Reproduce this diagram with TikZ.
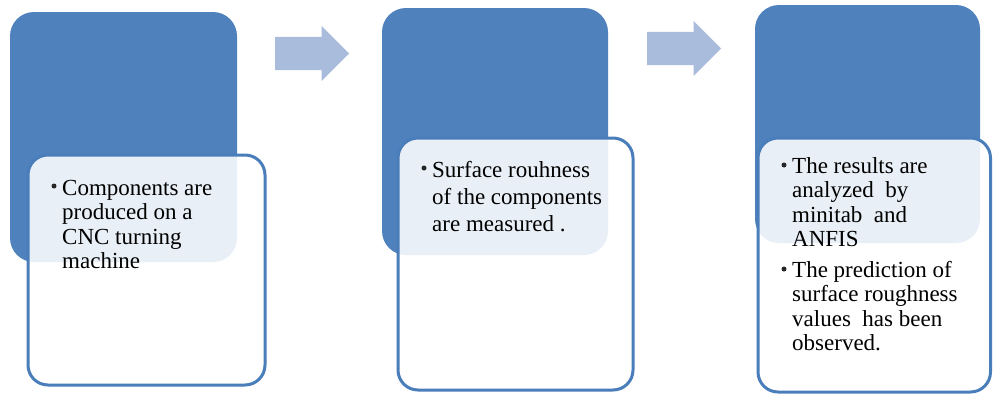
\documentclass[tikz,border=0pt]{standalone}
\usepackage{fontspec}
\setmainfont{Liberation Serif}
\usetikzlibrary{shapes.arrows}
\definecolor{stepblue}{HTML}{4F81BD}
\definecolor{stepborder}{HTML}{4A7EBB}
\definecolor{flowarrow}{HTML}{A9BCDB}
\tikzset{
  headbox/.style={fill=stepblue, draw=none, rounded corners=24pt},
  notebox/.style={fill=white, fill opacity=0.88, draw=stepborder, draw opacity=1, line width=3pt, rounded corners=20pt},
  flowarr/.style={single arrow, fill=flowarrow, draw=none, inner xsep=0pt, inner ysep=16.5pt,
    text height=0pt, text depth=0pt, single arrow head extend=11pt, minimum height=74pt, anchor=west},
  % multi-line text: the base anchor sits on the last line
  bodytext/.style={anchor=base west, inner sep=0pt, align=left, font=\fontsize{23}{24.5}\selectfont},
  bulletmark/.style={circle, fill=black!85, inner sep=0pt, minimum size=5pt},
}
\begin{document}
\begin{tikzpicture}[x=1pt,y=-1pt]
\useasboundingbox (0,0) rectangle (993,394);

% step 1
\path[headbox] (10,12) rectangle (237,262);
\path[notebox] (28,155) rectangle (265,385);
\node[bulletmark] (b1) at (54,186) {};
\node[bodytext] (t1) at (62,268.5) {Components are\\produced on a\\CNC turning\\machine};

% arrow 1
\node[flowarr] (a1) at (275,53.5) {};

% step 2
\path[headbox] (382,8) rectangle (608,255);
\path[notebox] (398,138) rectangle (633,390);
\node[bulletmark] (b2) at (424,168) {};
\node[bodytext, font=\fontsize{23}{27}\selectfont] (t2) at (432,231) {Surface rouhness\\of the components\\are measured .};

% arrow 2
\node[flowarr] (a2) at (647,48.5) {};

% step 3
\path[headbox] (755,5) rectangle (980,243);
\path[notebox] (758,138) rectangle (990.5,392);
\node[bulletmark] (b3) at (784,165) {};
\node[bodytext] (t3) at (792,246.5) {The results are\\analyzed\ \ by\\minitab\ \ and\\ANFIS};
\node[bulletmark] (b4) at (784,269) {};
\node[bodytext] (t4) at (792,350.5) {The prediction of\\surface roughness\\values\ \ has been\\observed.};
\end{tikzpicture}
\end{document}
